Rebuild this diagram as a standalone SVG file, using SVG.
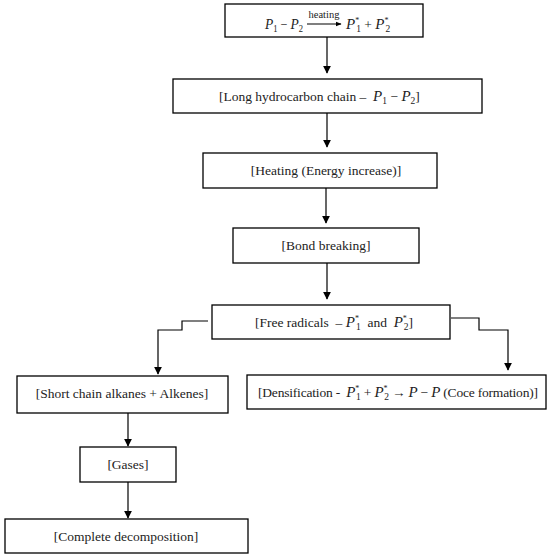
<svg xmlns="http://www.w3.org/2000/svg" width="550" height="559" viewBox="0 0 550 559">
<defs>
<style>
.box{fill:#fff;stroke:#000;stroke-width:1.3}
.t{font-family:"Liberation Serif","DejaVu Serif",serif;font-size:13.5px;fill:#222;text-anchor:middle}
.l{text-anchor:start}
.m{font-style:italic;font-size:15px}
.s{font-size:9.5px}
.u{font-size:8px}
.c{fill:none;stroke:#000;stroke-width:1.2}
</style>
<marker id="ah" viewBox="0 0 10 10" refX="9" refY="5" markerWidth="8" markerHeight="8" markerUnits="userSpaceOnUse" orient="auto">
<path d="M0,0 L10,5 L0,10 z" fill="#000"/>
</marker>
<marker id="ah2" viewBox="0 0 10 10" refX="9" refY="5" markerWidth="6" markerHeight="6" markerUnits="userSpaceOnUse" orient="auto">
<path d="M0,1 L10,5 L0,9 z" fill="#000"/>
</marker>
</defs>
<rect width="550" height="559" fill="#fff"/>
<g id="connectors">
<line class="c" x1="327" y1="37" x2="327" y2="73" marker-end="url(#ah)"/>
<line class="c" x1="327" y1="113" x2="327" y2="147" marker-end="url(#ah)"/>
<line class="c" x1="326" y1="188" x2="326" y2="223" marker-end="url(#ah)"/>
<line class="c" x1="327" y1="263" x2="327" y2="299" marker-end="url(#ah)"/>
<polyline class="c" points="208,321 182,321 182,330 158,330 158,374" marker-end="url(#ah)"/>
<polyline class="c" points="451,318 479,318 479,330 508,330 508,370" marker-end="url(#ah)"/>
<line class="c" x1="128" y1="413" x2="128" y2="446" marker-end="url(#ah)"/>
<line class="c" x1="128" y1="482" x2="128" y2="518" marker-end="url(#ah)"/>
</g>
<g id="n1">
<rect class="box" x="225" y="4" width="198" height="33"/>
<text class="t l" x="265" y="29" xml:space="preserve" textLength="38" lengthAdjust="spacingAndGlyphs"><tspan class="m">P</tspan><tspan class="s" dy="3">1</tspan><tspan dy="-3"> − </tspan><tspan class="m">P</tspan><tspan class="s" dy="3">2</tspan></text>
<line class="c" x1="307" y1="24" x2="341" y2="24" marker-end="url(#ah2)" stroke-width="0.9"/>
<text class="t" x="324" y="18" style="font-size:10.5px">heating</text>
<text class="t l" x="346" y="29" xml:space="preserve"><tspan class="m">P</tspan><tspan class="u" dy="-6">*</tspan><tspan class="s" dx="-3" dy="9">1</tspan><tspan dy="-3"> + </tspan><tspan class="m">P</tspan><tspan class="u" dy="-6">*</tspan><tspan class="s" dx="-3" dy="9">2</tspan></text>
</g>
<g id="n2">
<rect class="box" x="173" y="79" width="309" height="34"/>
<text class="t l" x="219" y="101" xml:space="preserve">[Long hydrocarbon chain –  <tspan class="m">P</tspan><tspan class="s" dy="3">1</tspan><tspan dy="-3"> − </tspan><tspan class="m">P</tspan><tspan class="s" dy="3">2</tspan><tspan dy="-3">]</tspan></text>
</g>
<g id="n3">
<rect class="box" x="203" y="153" width="234" height="35"/>
<text class="t" x="326" y="175">[Heating (Energy increase)]</text>
</g>
<g id="n4">
<rect class="box" x="233" y="228" width="186" height="35"/>
<text class="t" x="326" y="250">[Bond breaking]</text>
</g>
<g id="n5">
<rect class="box" x="212" y="305" width="238" height="34"/>
<text class="t l" x="255" y="327" xml:space="preserve">[Free radicals  – <tspan class="m">P</tspan><tspan class="u" dy="-6">*</tspan><tspan class="s" dx="-3" dy="9">1</tspan><tspan dy="-3">  and  </tspan><tspan class="m">P</tspan><tspan class="u" dy="-6">*</tspan><tspan class="s" dx="-3" dy="9">2</tspan><tspan dy="-3">]</tspan></text>
</g>
<g id="n6">
<rect class="box" x="17" y="376" width="211" height="37"/>
<text class="t" x="122" y="398">[Short chain alkanes + Alkenes]</text>
</g>
<g id="n7">
<rect class="box" x="247" y="375" width="299" height="34"/>
<text class="t l" x="258" y="397" xml:space="preserve" textLength="280" lengthAdjust="spacing">[Densification -  <tspan class="m">P</tspan><tspan class="u" dy="-6">*</tspan><tspan class="s" dx="-3" dy="9">1</tspan><tspan dy="-3"> + </tspan><tspan class="m">P</tspan><tspan class="u" dy="-6">*</tspan><tspan class="s" dx="-3" dy="9">2</tspan><tspan dy="-3"> → </tspan><tspan class="m">P</tspan> − <tspan class="m">P</tspan> (Coce formation)]</text>
</g>
<g id="n8">
<rect class="box" x="80" y="447" width="96" height="35"/>
<text class="t" x="128" y="469">[Gases]</text>
</g>
<g id="n9">
<rect class="box" x="5" y="519" width="243" height="34"/>
<text class="t" x="126" y="541">[Complete decomposition]</text>
</g>
</svg>
